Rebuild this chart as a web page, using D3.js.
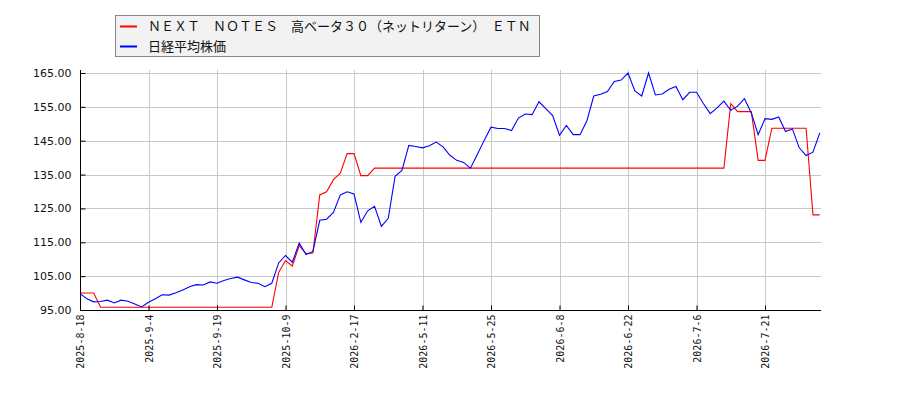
<!DOCTYPE html>
<html>
<head>
<meta charset="utf-8">
<script src="https://cdn.jsdelivr.net/npm/d3@7"></script>
<style>
  body { margin: 0; background: #fff; }
  svg { display: block; }
</style>
</head>
<body>
<div id="chart"></div>
<script>
// series names (legend)
var seriesNames = ["ＮＥＸＴ　ＮＯＴＥＳ　高ベータ３０（ネットリターン）　ＥＴＮ", "日経平均株価"];
var seriesColors = ["#ff0000", "#0000ff"];

// ETN price, one value per trading point
var etnValues = [
  100.0,100.0,100.0,95.8,95.8,95.8,95.8,95.8,95.8,95.8,
  95.8,95.8,95.8,95.8,95.8,95.8,95.8,95.8,95.8,95.8,
  95.8,95.8,95.8,95.8,95.8,95.8,95.8,95.8,95.8,106.1,
  109.6,108.0,114.0,111.6,111.8,129.0,129.9,133.5,135.4,141.2,
  141.2,134.7,134.7,136.9,136.9,136.9,136.9,136.9,136.9,136.9,
  136.9,136.9,136.9,136.9,136.9,136.9,136.9,136.9,136.9,136.9,
  136.9,136.9,136.9,136.9,136.9,136.9,136.9,136.9,136.9,136.9,
  136.9,136.9,136.9,136.9,136.9,136.9,136.9,136.9,136.9,136.9,
  136.9,136.9,136.9,136.9,136.9,136.9,136.9,136.9,136.9,136.9,
  136.9,136.9,136.9,136.9,136.9,156.0,153.6,153.6,153.6,139.2,
  139.2,148.7,148.7,148.7,148.7,148.7,148.7,123.1,123.1
];

// Nikkei 225, rebased to the same start
var nikkeiValues = [
  99.9,98.3,97.4,97.5,97.9,97.1,97.9,97.6,96.8,95.9,
  97.3,98.3,99.5,99.4,100.1,100.9,101.9,102.5,102.4,103.3,
  102.9,103.7,104.3,104.7,103.9,103.1,102.9,101.9,102.9,108.9,
  111.1,109.1,114.8,111.4,112.3,121.5,121.8,123.8,129.0,129.9,
  129.3,120.9,124.3,125.6,119.7,122.1,134.5,136.2,143.6,143.3,
  142.9,143.5,144.6,143.2,140.7,139.2,138.6,136.9,140.9,145.1,
  149.0,148.6,148.6,148.0,151.7,152.9,152.7,156.5,154.5,152.4,
  146.6,149.5,146.8,146.8,150.9,158.2,158.7,159.5,162.5,162.9,
  165.0,159.7,158.2,165.0,158.5,158.8,160.2,161.0,157.1,159.3,
  159.3,156.0,153.0,154.7,156.7,154.0,155.2,157.4,153.2,146.8,
  151.5,151.3,152.0,147.7,148.5,142.9,140.6,141.6,147.3
];

// x tick positions (point index) and their date labels
var tickIndex = [0, 10, 20, 30, 40, 50, 60, 70, 80, 90, 100];
var tickLabels = ["2025-8-18","2025-9-4","2025-9-19","2025-10-9","2026-2-17","2026-5-11",
                  "2026-5-25","2026-6-8","2026-6-22","2026-7-6","2026-7-21"];
var yTicks = [95, 105, 115, 125, 135, 145, 155, 165];

var W = 900, H = 400;
var plotLeft = 80, plotRight = 821, plotTop = 70, plotBottom = 310;

var svg = d3.select("#chart").append("svg")
  .attr("width", W).attr("height", H);

var x = d3.scalePoint()
  .domain(d3.range(etnValues.length))
  .range([plotLeft, plotLeft + 6.85 * (etnValues.length - 1)]);

var y = d3.scaleLinear()
  .domain([95, 165])
  .range([plotBottom, 73]);

// grid
svg.append("g").selectAll("line")
  .data(yTicks).enter().append("line")
  .attr("x1", plotLeft).attr("x2", plotRight)
  .attr("y1", function(d){ return Math.round(y(d)) + 0.5; })
  .attr("y2", function(d){ return Math.round(y(d)) + 0.5; })
  .attr("stroke", "#c8c8c8").attr("stroke-width", 1);

svg.append("g").selectAll("line")
  .data(tickIndex).enter().append("line")
  .attr("x1", function(d){ return Math.round(x(d)) + 0.5; })
  .attr("x2", function(d){ return Math.round(x(d)) + 0.5; })
  .attr("y1", plotTop).attr("y2", plotBottom)
  .attr("stroke", "#c8c8c8").attr("stroke-width", 1);

// lines
var line = d3.line()
  .x(function(d, i){ return x(i); })
  .y(function(d){ return y(d); });

[etnValues, nikkeiValues].forEach(function(vals, k){
  svg.append("path")
    .datum(vals)
    .attr("d", line)
    .attr("fill", "none")
    .attr("stroke", seriesColors[k])
    .attr("stroke-width", 1.1);
});

// y axis
var yAxis = d3.axisLeft(y)
  .tickValues(yTicks)
  .tickSize(-5)
  .tickPadding(9)
  .tickFormat(function(d){ return d.toFixed(2); });

var gy = svg.append("g")
  .attr("transform", "translate(" + (plotLeft + 0.5) + ",0)")
  .call(yAxis);
gy.select(".domain").attr("d", "M0," + plotTop + "V" + (plotBottom + 0.5));
gy.selectAll("text")
  .attr("font-family", "DejaVu Sans")
  .attr("font-size", 11)
  .attr("fill", "#111");

// x axis
var xAxis = d3.axisBottom(x)
  .tickValues(tickIndex)
  .tickSize(-5)
  .tickFormat(function(d, i){ return tickLabels[i]; });

var gx = svg.append("g")
  .attr("transform", "translate(0," + (plotBottom + 0.5) + ")")
  .call(xAxis);
gx.select(".domain").attr("d", "M" + plotLeft + ",0H" + plotRight);
gx.selectAll("text")
  .attr("font-family", "DejaVu Sans Mono")
  .attr("font-size", 10)
  .attr("fill", "#111")
  .attr("transform", "rotate(-90)")
  .attr("text-anchor", "end")
  .attr("x", -4)
  .attr("y", 0)
  .attr("dy", "0.35em");

// legend
var lg = svg.append("g");
lg.append("rect")
  .attr("x", 115.5).attr("y", 15.5)
  .attr("width", 424).attr("height", 41)
  .attr("fill", "#f2f2f2")
  .attr("stroke", "#888").attr("stroke-width", 1);

seriesNames.forEach(function(name, k){
  var cy = 26 + k * 20;
  lg.append("line")
    .attr("x1", 120).attr("x2", 137)
    .attr("y1", cy + 0.5).attr("y2", cy + 0.5)
    .attr("stroke", seriesColors[k]).attr("stroke-width", 2);
  lg.append("text")
    .attr("x", 148).attr("y", cy)
    .attr("dy", "0.36em")
    .attr("font-family", "Noto Sans CJK JP")
    .attr("font-size", 13)
    .attr("fill", "#111")
    .text(name);
});
</script>
</body>
</html>
